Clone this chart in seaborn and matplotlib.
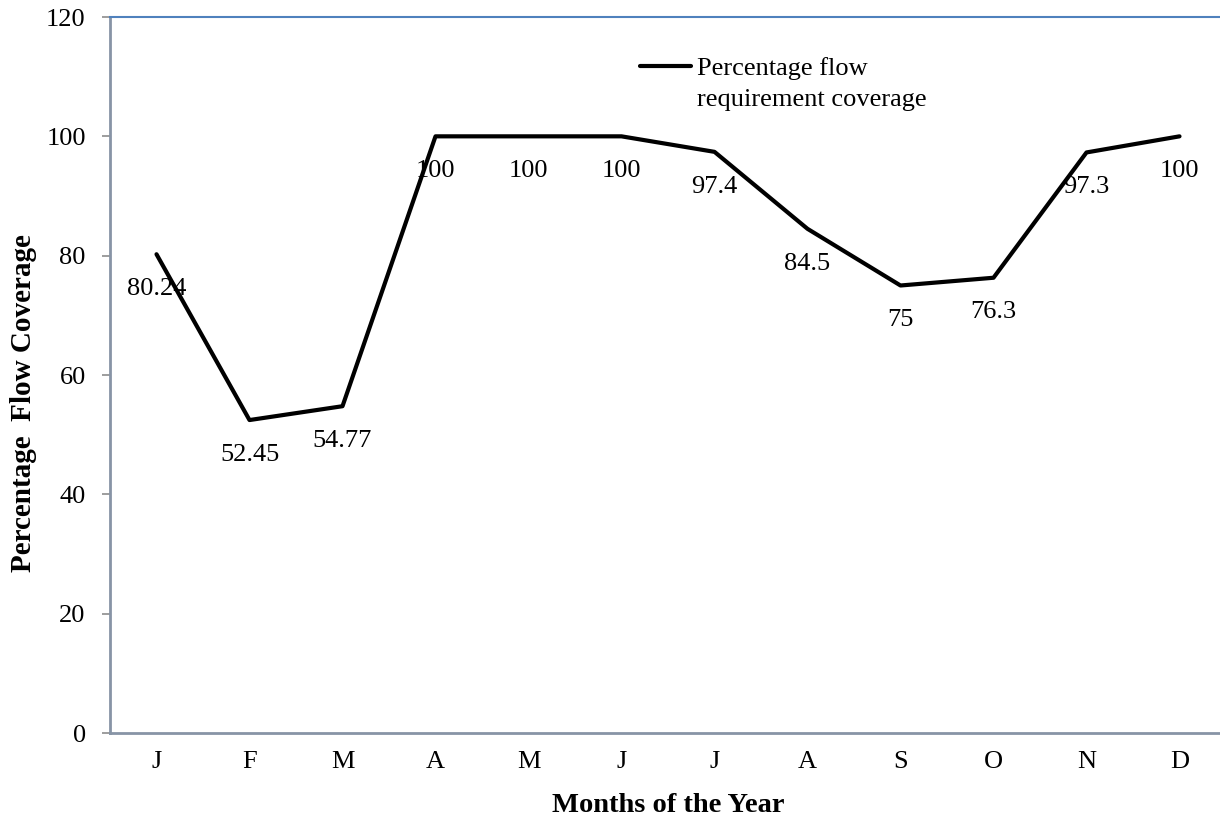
import seaborn as sns
import pandas as pd
import matplotlib.pyplot as plt
from matplotlib.lines import Line2D
from matplotlib.ticker import FixedLocator

months = ["J", "F", "M", "A", "M", "J", "J", "A", "S", "O", "N", "D"]
coverage = [80.24, 52.45, 54.77, 100, 100, 100, 97.4, 84.5, 75, 76.3, 97.3, 100]
point_labels = ["80.24", "52.45", "54.77", "100", "100", "100", "97.4", "84.5", "75", "76.3", "97.3", "100"]
yticks = [0, 20, 40, 60, 80, 100, 120]

sns.set_style("white")
plt.rcParams["font.family"] = ["Liberation Serif", "DejaVu Serif"]
plt.rcParams["text.color"] = "black"
plt.rcParams["xtick.labelcolor"] = "black"
plt.rcParams["ytick.labelcolor"] = "black"
plt.rcParams["axes.labelcolor"] = "black"

df = pd.DataFrame({"pos": range(len(months)), "coverage": coverage})

fig = plt.figure(figsize=(12.2, 8.17), dpi=100)
ax = fig.add_axes([110 / 1220, 1 - 733 / 817, 1116 / 1220, 716 / 817])

sns.lineplot(data=df, x="pos", y="coverage", color="black", linewidth=3.0, sort=False, ax=ax)

for i, (v, s) in enumerate(zip(coverage, point_labels)):
    ax.annotate(s, (i, v), xytext=(0, -25), textcoords="offset points",
                ha="center", va="center", fontsize=19, color="black")

ax.set_xlim(-0.5, len(months) - 0.5)
ax.set_ylim(0, 120)
ax.set_yticks(yticks)
ax.set_yticklabels([str(t) for t in yticks], fontsize=19)
ax.set_xticks(range(len(months)))
ax.set_xticklabels(months, fontsize=19)
ax.xaxis.set_minor_locator(FixedLocator([i - 0.5 for i in range(len(months) + 1)]))
ax.tick_params(axis="x", which="major", length=0, pad=13)
ax.tick_params(axis="x", which="minor", length=5.5, width=1.2, color="#8C8C8C", direction="out")
ax.tick_params(axis="y", length=5.5, width=1.2, color="#8C8C8C", direction="out", pad=12, left=True)

for side in ["left", "bottom"]:
    ax.spines[side].set_color("#8794A6")
    ax.spines[side].set_linewidth(2)
ax.spines["top"].set_color("#4F81BD")
ax.spines["top"].set_linewidth(1.5)
ax.spines["right"].set_visible(False)

ax.set_xlabel("Months of the Year", fontsize=20.5, fontweight="bold")
ax.xaxis.set_label_coords(0.5, (733 - 805) / 716)
ax.xaxis.label.set_va("center")
ax.set_ylabel("Percentage  Flow Coverage", fontsize=21, fontweight="bold")
ax.yaxis.set_label_coords(-86 / 1116, (733 - 403) / 716)
ax.yaxis.label.set_va("center")

handle = Line2D([], [], color="black", linewidth=3.0)
blank = Line2D([], [], color="none")
ax.legend([handle, blank], ["Percentage flow", "requirement coverage"], loc="upper left",
          bbox_to_anchor=(640 / 1220, 1 - 57 / 817), bbox_transform=fig.transFigure,
          frameon=False, fontsize=19, handlelength=1.95, handletextpad=0.2,
          borderpad=0, borderaxespad=0, labelspacing=0.28)

plt.savefig("out.png", dpi=100)
